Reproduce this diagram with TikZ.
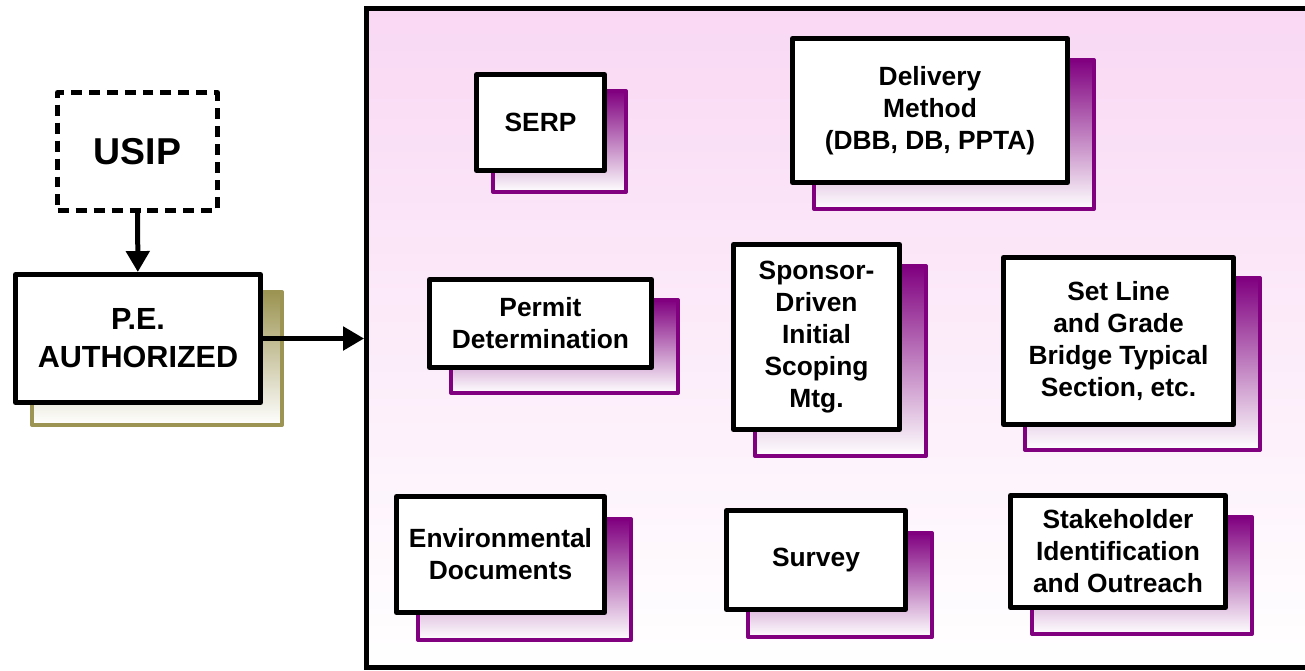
\documentclass[tikz,border=0pt]{standalone}
\usepackage{fontspec}
\setmainfont{Liberation Sans}
\usetikzlibrary{arrows.meta,backgrounds}

\definecolor{cardpurple}{RGB}{128,0,128}
\definecolor{peolive}{RGB}{156,148,82}
\definecolor{panelpink}{RGB}{249,216,244}

\tikzset{
  card/.style={draw, line width=0.1cm, line join=round, fill=white, align=center, inner sep=0pt,
    font=\bfseries\fontsize{15}{18.2}\selectfont},
  backcard/.style={draw=cardpurple, line width=0.08cm, line join=round, top color=cardpurple, bottom color=white},
  flow/.style={line width=0.1cm, -{Triangle[length=0.42cm,width=0.46cm]}},
}

\begin{document}
\begin{tikzpicture}[x=0.02cm, y=-0.02cm]
		\useasboundingbox (0,0) rectangle (1305,670);

		% left side
		\node[card, dash pattern=on 0.22cm off 0.14cm, minimum width=3.2cm, minimum height=2.36cm,
			font=\bfseries\fontsize{21.3}{25}\selectfont] (usip) at (137.5,151.5) {USIP};
		\node[card, minimum width=4.9cm, minimum height=2.56cm,
			font=\bfseries\fontsize{17.4}{21.6}\selectfont] (pe) at (138,338.5) {P.E.\\AUTHORIZED};

		% cards in the panel
		\node[card, minimum width=2.56cm, minimum height=1.92cm] (serp) at (540.5,122.5) {SERP};
		\node[card, minimum width=5.5cm, minimum height=2.88cm] (delivery) at (930,110.5) {Delivery\\Method\\(DBB, DB, PPTA)};
		\node[card, minimum width=4.44cm, minimum height=1.76cm] (permit) at (540.5,323.5) {Permit\\Determination};
		\node[card, minimum width=3.32cm, minimum height=3.7cm] (sponsor) at (816.5,337) {Sponsor-\\Driven\\Initial\\Scoping\\Mtg.};
		\node[card, minimum width=4.6cm, minimum height=3.34cm] (setline) at (1118.5,341) {Set Line\\and Grade\\Bridge Typical\\Section, etc.};
		\node[card, minimum width=4.16cm, minimum height=2.32cm] (env) at (500.5,554.5) {Environmental\\Documents};
		\node[card, minimum width=3.58cm, minimum height=1.98cm] (survey) at (816,560) {Survey};
		\node[card, minimum width=4.3cm, minimum height=2.24cm] (stake) at (1118,551.5) {Stakeholder\\Identification\\and Outreach};

		\begin{scope}[on background layer]
			\node[draw, line width=0.1cm, top color=panelpink, bottom color=white,
				minimum width=19.27cm, minimum height=13.2cm] (panel) at (848.25,338) {};

			\shade[backcard, draw=peolive, top color=peolive] ([shift={(19,20)}]pe.south west) rectangle ([shift={(19,20)}]pe.north east);
			\shade[backcard] ([shift={(19,19)}]serp.south west) rectangle ([shift={(19,19)}]serp.north east);
			\shade[backcard] ([shift={(24,24)}]delivery.south west) rectangle ([shift={(24,24)}]delivery.north east);
			\shade[backcard] ([shift={(24,23)}]permit.south west) rectangle ([shift={(24,23)}]permit.north east);
			\shade[backcard] ([shift={(24,24)}]sponsor.south west) rectangle ([shift={(24,24)}]sponsor.north east);
			\shade[backcard] ([shift={(24,23)}]setline.south west) rectangle ([shift={(24,23)}]setline.north east);
			\shade[backcard] ([shift={(24,25)}]env.south west) rectangle ([shift={(24,25)}]env.north east);
			\shade[backcard] ([shift={(24,25)}]survey.south west) rectangle ([shift={(24,25)}]survey.north east);
			\shade[backcard] ([shift={(24,24)}]stake.south west) rectangle ([shift={(24,24)}]stake.north east);
		\end{scope}

		\draw[flow] (usip) -- (pe);
		\draw[flow] (pe.east) -- (pe.east -| panel.west);
\end{tikzpicture}
\end{document}
